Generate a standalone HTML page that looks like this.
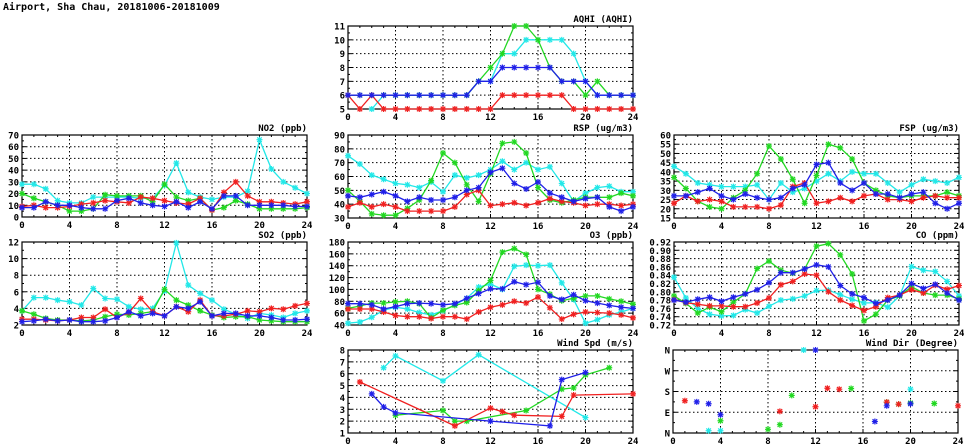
<!DOCTYPE html>
<html><head><meta charset="utf-8"><style>
html,body{margin:0;padding:0;background:#fff;width:975px;height:447px;overflow:hidden}
svg{display:block;font-family:"DejaVu Sans Mono","Liberation Mono",monospace;font-weight:bold}
</style></head><body>
<svg id="chart" width="975" height="447" viewBox="0 0 975 447" xmlns="http://www.w3.org/2000/svg">
<text x="3" y="10" font-size="10">Airport, Sha Chau, 20181006-20181009</text>
</svg>
<script>
const hours = [0,1,2,3,4,5,6,7,8,9,10,11,12,13,14,15,16,17,18,19,20,21,22,23,24];
const xTicks = [0,4,8,12,16,20,24];
const seriesNames = ['cyan','green','red','blue'];
const colors = {cyan:'#22e8e8',green:'#22d822',red:'#f02020',blue:'#2020e8'};
const N = null;

const aqhiCyan  = [N,N,5,6,6,6,6,6,6,6,6,7,7,9,9,10,10,10,10,9,7,6,6,6,6];
const aqhiGreen = [6,6,6,6,6,6,6,6,6,6,6,7,8,9,11,11,10,8,7,7,6,7,6,6,6];
const aqhiRed   = [6,5,6,5,5,5,5,5,5,5,5,5,5,6,6,6,6,6,6,5,5,5,5,5,5];
const aqhiBlue  = [6,6,6,6,6,6,6,6,6,6,6,7,7,8,8,8,8,8,7,7,7,6,6,6,6];
const aqhiTicks = [5,6,7,8,9,10,11];

const no2Cyan  = [28,28,24,14,12,12,17,17,17,17,16,16,27,46,21,17,15,17,17,22,66,41,30,25,20];
const no2Green = [20,16,13,10,5,5,7,19,18,18,18,13,28,17,14,16,6,8,14,11,7,7,7,7,8];
const no2Red   = [9,10,8,8,9,11,12,14,13,12,17,16,14,12,11,16,6,21,30,18,13,13,12,11,13];
const no2Blue  = [8,8,13,10,10,8,7,7,14,16,12,10,9,13,8,13,7,18,18,10,10,10,10,9,9];
const no2Ticks = [0,10,20,30,40,50,60,70];

const rspCyan  = [75,69,61,58,55,54,52,56,49,61,59,61,65,71,65,70,65,67,55,42,48,52,53,49,49];
const rspGreen = [50,42,33,32,32,37,43,57,77,70,54,42,62,84,85,77,52,43,41,43,45,45,45,48,46];
const rspRed   = [38,41,38,40,38,35,35,35,35,38,47,50,39,40,41,39,41,44,42,41,39,40,40,39,40];
const rspBlue  = [46,45,47,49,46,42,45,43,43,45,50,52,63,66,55,51,56,48,45,42,44,45,38,35,38];
const rspTicks = [30,40,50,60,70,80,90];

const fspCyan  = [43,39,34,33,32,32,32,33,25,34,29,31,35,39,35,40,39,39,34,29,33,36,35,34,37];
const fspGreen = [37,31,24,21,20,26,30,39,54,47,36,23,38,55,53,47,34,30,27,26,27,27,27,29,27];
const fspRed   = [23,27,24,25,24,21,21,21,20,22,32,34,23,24,26,24,27,28,25,25,24,26,27,26,26];
const fspBlue  = [27,27,29,31,27,25,28,26,25,26,31,33,44,45,34,30,34,28,28,26,28,29,23,20,23];
const fspTicks = [15,20,25,30,35,40,45,50,55,60];

const so2Cyan  = [3.7,5.3,5.3,5.0,4.8,4.4,6.4,5.2,5.1,4.2,3.9,4.0,6.1,11.9,6.8,5.8,5.0,3.9,3.3,2.8,3.4,3.2,2.9,3.4,3.7];
const so2Green = [3.7,3.3,2.8,2.6,2.6,2.5,2.6,3.0,3.3,3.2,3.4,3.6,6.3,5.0,4.4,3.7,3.2,2.9,3.0,3.0,2.6,2.5,2.4,2.4,2.4];
const so2Red   = [2.7,2.7,2.6,2.5,2.6,2.9,2.9,3.9,2.9,3.5,5.2,3.6,3.1,4.2,3.6,5.0,3.1,3.1,3.3,3.7,3.6,4.0,3.9,4.3,4.6];
const so2Blue  = [2.4,2.5,2.7,2.5,2.6,2.4,2.4,2.5,2.9,3.6,3.1,3.4,3.1,4.2,4.0,4.8,3.1,3.4,3.4,3.1,3.1,2.9,2.6,2.6,2.7];
const so2Ticks = [2,4,6,8,10,12];

const o3Cyan  = [43,45,53,65,70,67,61,57,64,74,85,104,109,100,139,141,140,141,111,83,43,49,57,62,68];
const o3Green = [68,72,77,77,79,80,76,52,65,73,78,98,115,163,169,159,100,92,81,85,89,89,84,80,75];
const o3Red   = [67,67,67,62,56,54,54,51,54,54,50,62,70,74,80,77,87,69,50,58,62,61,60,57,52];
const o3Blue  = [76,76,74,67,71,76,77,76,74,76,85,93,101,101,113,108,112,89,83,91,81,77,73,70,68];
const o3Ticks = [40,60,80,100,120,140,160,180];

const coCyan  = [.835,.785,.760,.746,.742,.743,.757,.749,.765,.780,.783,.790,.803,.804,.793,.782,.773,.774,.763,.790,.861,.852,.849,.825,.790];
const coGreen = [.790,.772,.749,.763,.752,.775,.795,.856,.874,.852,.845,.855,.910,.916,.889,.843,.730,.746,.780,.790,.812,.797,.792,.792,.783];
const coRed   = [.781,.774,.770,.766,.766,.764,.764,.773,.785,.817,.825,.843,.840,.800,.780,.767,.755,.764,.786,.792,.805,.797,.816,.806,.815];
const coBlue  = [.780,.775,.782,.787,.777,.787,.795,.805,.822,.846,.846,.855,.865,.860,.815,.795,.786,.772,.780,.792,.820,.808,.818,.797,.780];
const coTicks = [.72,.74,.76,.78,.80,.82,.84,.86,.88,.90,.92];

const wsCyan  = [N,N,N,6.5,7.5,N,N,N,5.4,N,N,7.6,N,N,N,N,N,N,N,N,2.3,N,N,N,N];
const wsGreen = [N,N,N,N,2.5,N,N,N,2.9,2.0,2.0,N,N,N,N,2.9,N,N,4.7,4.8,5.9,N,6.5,N,N];
const wsRed   = [N,5.3,N,N,N,N,N,N,N,1.6,N,N,3.1,2.8,2.5,N,N,N,2.4,4.2,N,N,N,N,4.3];
const wsBlue  = [N,N,4.3,3.2,2.7,N,N,N,N,N,N,N,2.0,N,N,N,N,1.6,5.5,N,6.1,N,N,N,N];
const wsTicks = [1,2,3,4,5,6,7,8];

const wdCyan  = [N,N,N,10,10,N,N,N,N,N,N,360,N,N,N,N,N,N,N,N,190,N,N,N,N];
const wdGreen = [N,N,N,N,53,N,N,N,16,36,163,N,N,N,N,193,N,N,134,125,130,N,128,N,N];
const wdRed   = [N,140,N,N,N,N,N,N,N,94,N,N,114,194,190,N,N,N,134,125,N,N,N,N,118];
const wdBlue  = [N,N,135,127,79,N,N,N,N,N,N,N,360,N,N,N,N,50,118,N,127,N,N,N,N];
const wdTicks = [0,90,180,270,360];
const wdTickLabels = ['N','E','S','W','N'];

const panels = [
 {name:'aqhi',title:'AQHI (AQHI)',x0:348,x1:633,y0:26,y1:109,ticks:aqhiTicks,data:{cyan:aqhiCyan,green:aqhiGreen,red:aqhiRed,blue:aqhiBlue},lines:true,dec:0},
 {name:'no2',title:'NO2 (ppb)',x0:22,x1:307,y0:135,y1:217,ticks:no2Ticks,data:{cyan:no2Cyan,green:no2Green,red:no2Red,blue:no2Blue},lines:true,dec:0},
 {name:'rsp',title:'RSP (ug/m3)',x0:348,x1:633,y0:135,y1:218,ticks:rspTicks,data:{cyan:rspCyan,green:rspGreen,red:rspRed,blue:rspBlue},lines:true,dec:0},
 {name:'fsp',title:'FSP (ug/m3)',x0:674,x1:959,y0:135,y1:218,ticks:fspTicks,data:{cyan:fspCyan,green:fspGreen,red:fspRed,blue:fspBlue},lines:true,dec:0},
 {name:'so2',title:'SO2 (ppb)',x0:22,x1:307,y0:242,y1:325,ticks:so2Ticks,data:{cyan:so2Cyan,green:so2Green,red:so2Red,blue:so2Blue},lines:true,dec:0},
 {name:'o3',title:'O3 (ppb)',x0:348,x1:633,y0:242,y1:325,ticks:o3Ticks,data:{cyan:o3Cyan,green:o3Green,red:o3Red,blue:o3Blue},lines:true,dec:0},
 {name:'co',title:'CO (ppm)',x0:674,x1:959,y0:242,y1:325,ticks:coTicks,data:{cyan:coCyan,green:coGreen,red:coRed,blue:coBlue},lines:true,dec:2},
 {name:'wind-speed',title:'Wind Spd (m/s)',x0:348,x1:633,y0:350,y1:433,ticks:wsTicks,data:{cyan:wsCyan,green:wsGreen,red:wsRed,blue:wsBlue},lines:true,dec:0},
 {name:'wind-dir',title:'Wind Dir (Degree)',x0:673,x1:958,y0:350,y1:433,ticks:wdTicks,labels:wdTickLabels,data:{cyan:wdCyan,green:wdGreen,red:wdRed,blue:wdBlue},lines:false,dec:0}
];

const svg = document.getElementById('chart');
const NS = 'http://www.w3.org/2000/svg';
function mk(tag, attrs, parent){const e=document.createElementNS(NS,tag);for(const k in attrs)e.setAttribute(k,attrs[k]);parent.appendChild(e);return e;}

panels.forEach(p=>{
  const g = mk('g',{},svg);
  
  
  const ymin=p.ticks[0], ymax=p.ticks[p.ticks.length-1];
  const sx = v => p.x0 + (v-0)/(24-0)*(p.x1-p.x0);
  const sy = v => p.y1 - (v-ymin)/(ymax-ymin)*(p.y1-p.y0);
  // grid
  p.ticks.forEach((t,i)=>{
    const y=sy(t);
    if(i>0 && i<p.ticks.length-1){
      const l=mk('line',{x1:p.x0,x2:p.x1,y1:y,y2:y,stroke:'#000','stroke-width':1,'stroke-dasharray':'1.5,2.5'},g);
      
      
    }
    mk('line',{x1:p.x0,x2:p.x0+4,y1:y,y2:y,stroke:'#000'},g);
    mk('line',{x1:p.x1-4,x2:p.x1,y1:y,y2:y,stroke:'#000'},g);
    const lab = p.labels ? p.labels[i] : t.toFixed(p.dec);
    const tx=mk('text',{x:p.x0-3,y:y+3.5,'font-size':9,'text-anchor':'end'},g);
    tx.textContent=lab;
    
    
    if(i<p.ticks.length-1){
      const ym=sy((t+p.ticks[i+1])/2);
      mk('line',{x1:p.x0,x2:p.x0+2,y1:ym,y2:ym,stroke:'#000'},g);
      mk('line',{x1:p.x1-2,x2:p.x1,y1:ym,y2:ym,stroke:'#000'},g);
    }
  });
  hours.forEach(h=>{
    const x=sx(h);
    mk('line',{x1:x,x2:x,y1:p.y1,y2:p.y1-2,stroke:'#000'},g);
    mk('line',{x1:x,x2:x,y1:p.y0,y2:p.y0+2,stroke:'#000'},g);
  });
  xTicks.forEach((t,i)=>{
    const x=sx(t);
    if(i>0 && i<xTicks.length-1){
      const l=mk('line',{x1:x,x2:x,y1:p.y0,y2:p.y1,stroke:'#000','stroke-width':1,'stroke-dasharray':'1.5,2.5'},g);
      
      
    }
    mk('line',{x1:x,x2:x,y1:p.y1,y2:p.y1-4,stroke:'#000'},g);
    const tx=mk('text',{x:x,y:p.y1+11,'font-size':9,'text-anchor':'middle'},g);
    tx.textContent=t;
    
    
  });
  const fr=mk('rect',{x:p.x0,y:p.y0,width:p.x1-p.x0,height:p.y1-p.y0,fill:'none',stroke:'#000','stroke-width':1.2},g);
  
  
  const tt=mk('text',{x:p.x1,y:p.y0-4,'font-size':9,'text-anchor':'end'},g);
  tt.textContent=p.title;
  
  
  seriesNames.forEach(s=>{
    const vals=p.data[s]; const c=colors[s];
    const pts=[];
    hours.forEach((h,i)=>{ if(vals[i]!==null) pts.push([sx(h),sy(vals[i])]); });
    if(p.lines && pts.length>1){
      const pl=mk('polyline',{points:pts.map(q=>q[0].toFixed(1)+','+q[1].toFixed(1)).join(' '),fill:'none',stroke:c,'stroke-width':1.3},g);
      
      
    }
    pts.forEach(q=>{
      const m=mk('path',{d:`M${q[0]-3},${q[1]}h6M${q[0]},${q[1]-3}v6M${q[0]-2.3},${q[1]-2.3}l4.6,4.6M${q[0]-2.3},${q[1]+2.3}l4.6,-4.6`,stroke:c,'stroke-width':1.2,fill:'none'},g);
      
      
    });
  });
});
</script>
</body></html>
